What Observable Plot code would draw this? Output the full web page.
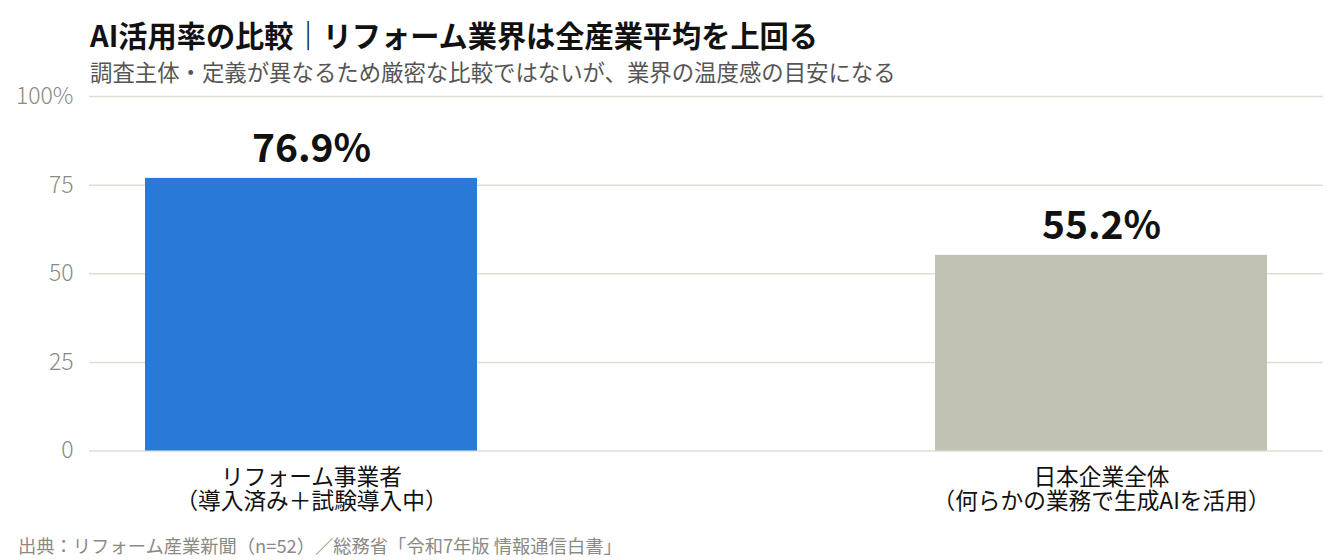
<!DOCTYPE html>
<html>
<head>
<meta charset="utf-8">
<script src="https://cdn.jsdelivr.net/npm/d3@7"></script>
<script src="https://cdn.jsdelivr.net/npm/@observablehq/plot@0.6"></script>
<style>
  html, body { margin: 0; padding: 0; background: #fff; }
  body { width: 1344px; height: 560px; overflow: hidden; font-family: "Noto Sans CJK JP", "Noto Sans", sans-serif; }
  #title { margin: 16px 0 0 90px; font-size: 29.2px; font-weight: 700; line-height: 36px; color: #111; white-space: nowrap; }
  #subtitle { margin: 5px 0 0 90px; font-size: 22.4px; line-height: 28px; color: #555; white-space: nowrap; }
  #chart { margin-top: -10px; }
  #chart svg { display: block; overflow: visible; }
  #caption { margin: 0 0 0 18px; font-size: 18.3px; line-height: 30px; color: #8a8a85; white-space: nowrap; }
</style>
</head>
<body>
<div id="title">AI活用率の比較｜リフォーム業界は全産業平均を上回る</div>
<div id="subtitle">調査主体・定義が異なるため厳密な比較ではないが、業界の温度感の目安になる</div>
<div id="chart"></div>
<div id="caption">出典：リフォーム産業新聞（n=52）／総務省「令和7年版 情報通信白書」</div>
<script>
const categories = ["リフォーム事業者\n（導入済み＋試験導入中）", "日本企業全体\n（何らかの業務で生成AIを活用）"];
const values = [76.9, 55.2];
const valueLabels = ["76.9%", "55.2%"];
const colors = ["#2979d6", "#c2c2b4"];
const yTicks = [0, 25, 50, 75, 100];
const yTickLabels = ["0", "25", "50", "75", "100%"];

const data = categories.map((c, i) => ({cat: c, value: values[i], label: valueLabels[i], color: colors[i]}));

const chart = Plot.plot({
  width: 1344,
  height: 455,
  marginTop: 21,
  marginBottom: 79.5,
  marginLeft: 89,
  marginRight: 21,
  style: {fontFamily: "'Noto Sans CJK JP', 'Noto Sans', sans-serif", background: "transparent"},
  x: {domain: categories, paddingInner: 0.58, paddingOuter: 0.071, label: null},
  y: {domain: [0, 100], label: null},
  marks: [
    Plot.ruleY(yTicks, {stroke: "#deded6", strokeWidth: 1.5}),
    Plot.barY(data, {x: "cat", y: "value", fill: "color"}),
    Plot.text(data, {x: "cat", y: "value", text: "label", dy: -16, lineAnchor: "bottom", fontSize: 39, fontWeight: 700, fill: "#111"}),
    Plot.axisY({ticks: yTicks, tickFormat: d => yTickLabels[yTicks.indexOf(d)], tickSize: 0, tickPadding: 16, fontSize: 23, fontWeight: 300, fill: "#8a8a85", label: null}),
    Plot.axisX({tickSize: 0, tickPadding: 16.5, fontSize: 22.7, lineHeight: 1.08, fill: "#111", label: null})
  ]
});
document.getElementById("chart").appendChild(chart);
</script>
</body>
</html>
